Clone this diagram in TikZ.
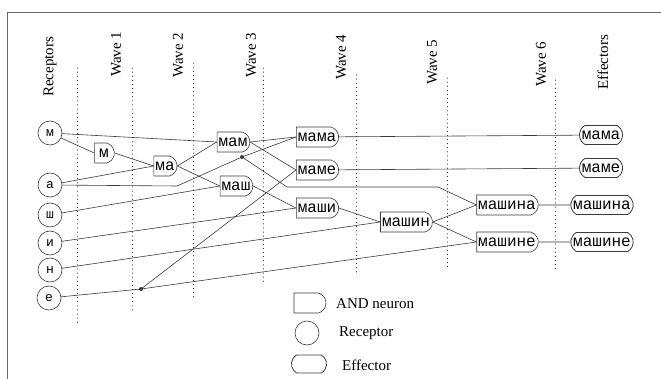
\documentclass[tikz,border=0pt]{standalone}
\usepackage{fontspec}
\setmainfont{Liberation Serif}
\setmonofont{Liberation Mono}
\usetikzlibrary{shapes.misc}
\definecolor{wire}{HTML}{3A3A3A}
\definecolor{edge}{HTML}{6A6A6A}

\begin{document}
\begin{tikzpicture}[x=1pt,y=-1pt,line cap=round,line join=round,
    wavelabel/.style={rotate=90,anchor=west,inner sep=0pt,font=\fontsize{15}{15}\selectfont},
    keytext/.style={anchor=west,inner sep=0pt,font=\fontsize{15}{15}\selectfont},
    rcpt/.style={circle,draw=wire,line width=0.6pt,minimum size=24pt,inner sep=0pt,font=\fontsize{13}{13}\ttfamily},
    andn/.style={rounded rectangle,rounded rectangle west arc=none,rounded rectangle arc length=150,
      draw=wire,line width=0.6pt,minimum height=20pt,inner xsep=1.5pt,inner ysep=0pt,font=\fontsize{16}{16}\ttfamily},
    effn/.style={rounded rectangle,rounded rectangle arc length=120,
      draw=wire,line width=0.8pt,minimum height=19pt,inner xsep=1.5pt,inner ysep=0pt,font=\fontsize{16}{16}\ttfamily},
    link/.style={draw=wire,line width=0.6pt},
    wavegrid/.style={draw=black,line width=0.9pt,dash pattern=on 0.1pt off 4pt}]
    \useasboundingbox (0,0) rectangle (661,379);
    \draw[edge,line width=0.9pt] (7,379) -- (7,12.5) -- (661,12.5);

    \foreach \x/\t/\b in {77/68/323,132/68/310,193/63/298,263/68/283,356/75/272,447/78/268,555/80/270}
      \draw[wavegrid] (\x,\t) -- (\x,\b);

    \node[wavelabel] (lrec) at (50,97) {Receptors};
    \node[wavelabel] (lw1) at (116,77) {Wave 1};
    \node[wavelabel] (lw2) at (178,78) {Wave 2};
    \node[wavelabel] (lw3) at (251,78) {Wave 3};
    \node[wavelabel] (lw4) at (341,80) {Wave 4};
    \node[wavelabel] (lw5) at (432,85) {Wave 5};
    \node[wavelabel] (lw6) at (541,87) {Wave 6};
    \node[wavelabel] (leff) at (603,90) {Effectors};

    \node[rcpt] (rm) at (50,133) {м};
    \node[rcpt] (ra) at (50,185) {а};
    \node[rcpt] (rsh) at (50,215) {ш};
    \node[rcpt] (ri) at (50,243) {и};
    \node[rcpt] (rn) at (50,270) {н};
    \node[rcpt] (re) at (49,298) {е};

    \node[andn] (nm) at (104,153) {м};
    \node[andn] (nma) at (165,166) {ма};
    \node[andn] (nmam) at (233,142) {мам};
    \node[andn] (nmash) at (236,186) {маш};
    \node[andn] (nmama) at (317,137) {мама};
    \node[andn] (nmame) at (317,170) {маме};
    \node[andn] (nmashi) at (317,208) {маши};
    \node[andn] (nmashin) at (406,222) {машин};
    \node[andn] (nmashina) at (507,205) {машина};
    \node[andn] (nmashine) at (507,242) {машине};

    \node[effn] (emama) at (601,135) {мама};
    \node[effn] (emame) at (601,168) {маме};
    \node[effn] (emashina) at (602,205) {машина};
    \node[effn] (emashine) at (602,242) {машине};

    \coordinate (ka) at (177,186);
    \coordinate (ja) at (242,157);
    \coordinate (kb) at (287,187);
    \coordinate (kc) at (438,187);
    \coordinate (je) at (141,289);

    \draw[link] (rm) -- (nm.west);
    \draw[link] (rm) -- (nmam.west);
    \draw[link] (nm.east) -- (nma.west);
    \draw[link] (ra) -- (nma.west);
    \draw[link] (nma.east) -- (nmam.west);
    \draw[link] (nma.east) -- (nmash.west);
    \draw[link] (rsh) -- (nmash.west);
    \draw[link] (ra) -- (ka) -- (ja) -- (nmama.west);
    \draw[link] (ja) -- (kb) -- (kc) -- (nmashina.west);
    \draw[link] (nmam.east) -- (nmama.west);
    \draw[link] (nmam.east) -- (nmame.west);
    \draw[link] (re) -- (je) -- (nmashine.west);
    \draw[link] (je) -- (nmame.west);
    \draw[link] (nmash.east) -- (nmashi.west);
    \draw[link] (ri) -- (nmashi.west);
    \draw[link] (rn) -- (nmashin.west);
    \draw[link] (nmashi.east) -- (nmashin.west);
    \draw[link] (nmashin.east) -- (nmashina.west);
    \draw[link] (nmashin.east) -- (nmashine.west);
    \draw[link] (nmama) -- (emama);
    \draw[link] (nmame) -- (emame);
    \draw[link] (nmashina) -- (emashina);
    \draw[link] (nmashine) -- (emashine);
    \fill[wire] (ja) circle (2pt);
    \fill[wire] (je) circle (2pt);

    \node[andn,minimum width=35pt] (kand) at (310,303) {};
    \node[rcpt] (krec) at (307,333) {};
    \node[effn,minimum width=38pt,minimum height=18pt] (keff) at (309,364) {};
    \node[keytext] (tand) at (336,304) {AND neuron};
    \node[keytext] (trec) at (339,333) {Receptor};
    \node[keytext] (teff) at (342,365) {Effector};
  \end{tikzpicture}
\end{document}
